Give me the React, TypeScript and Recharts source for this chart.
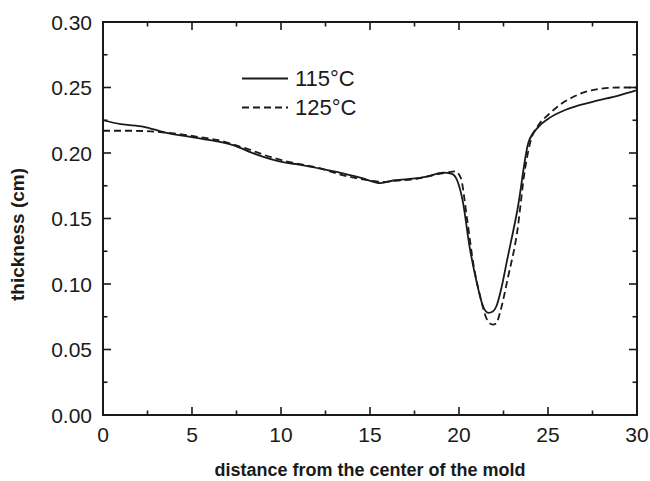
import React from "react";
import { LineChart, Line, XAxis, YAxis, Legend, ReferenceArea } from "recharts";

// 115°C (solid)
const x115 = [0, 1, 2.3, 3.4, 5.5, 7.3, 8.6, 10.1, 11.1, 12.6, 13.3, 14.5, 15.6, 16.3, 17.1, 18.2, 19.1, 19.6, 19.9, 20.2, 20.6, 21.0, 21.35, 21.65, 21.9, 22.1, 22.4, 22.7, 23.3, 23.9, 24.4, 25.0, 26.0, 27.5, 29.0, 30];
const y115 = [0.225, 0.222, 0.220, 0.216, 0.211, 0.206, 0.199, 0.193, 0.191, 0.187, 0.185, 0.181, 0.177, 0.179, 0.180, 0.182, 0.185, 0.184, 0.179, 0.164, 0.128, 0.101, 0.083, 0.078, 0.079, 0.083, 0.098, 0.118, 0.158, 0.208, 0.219, 0.226, 0.233, 0.239, 0.244, 0.248];

// 125°C (dashed)
const x125 = [0, 1.5, 3.2, 4.5, 5.5, 6.4, 7.9, 9.4, 10.5, 12, 13.5, 15, 15.7, 16.5, 17.5, 18.5, 19.3, 19.8, 20.1, 20.45, 20.8, 21.2, 21.57, 21.9, 22.1, 22.3, 22.75, 23.26, 23.7, 24.0, 24.5, 25.0, 25.6, 26.3, 27.5, 29, 30];
const y125 = [0.217, 0.217, 0.216, 0.214, 0.212, 0.210, 0.204, 0.197, 0.193, 0.189, 0.183, 0.179, 0.178, 0.179, 0.180, 0.183, 0.185, 0.186, 0.181, 0.150, 0.116, 0.090, 0.073, 0.069, 0.070, 0.078, 0.105, 0.139, 0.187, 0.208, 0.222, 0.229, 0.236, 0.242, 0.248, 0.250, 0.250];

const xTicks = [0, 2.5, 5, 7.5, 10, 12.5, 15, 17.5, 20, 22.5, 25, 27.5, 30];
const yTicks = [0, 0.025, 0.05, 0.075, 0.1, 0.125, 0.15, 0.175, 0.2, 0.225, 0.25, 0.275, 0.3];

const data115 = x115.map((x, i) => ({ x, y: y115[i] }));
const data125 = x125.map((x, i) => ({ x, y: y125[i] }));

const W = 650;
const H = 481;
const MARGIN = { top: 22, right: 13, bottom: 0, left: 0 };
const PLOT_TOP = MARGIN.top;
const PLOT_RIGHT = W - MARGIN.right;

const INK = "#1a1a1a";
const FONT = "'Liberation Sans', Arial, sans-serif";
const MAJOR = 8;
const MINOR = 4.5;

const isMajorX = (v: number) => v % 5 === 0;
const isMajorY = (v: number) => Math.round(v * 1000) % 50 === 0;

// bottom ticks point inward; the same tick is mirrored on the top frame edge
function BottomTick({ x, y, payload }: any) {
  const major = isMajorX(payload.value);
  const len = major ? MAJOR : MINOR;
  const base = y - 12;
  return (
    <g>
      <line x1={x} x2={x} y1={base} y2={base - len} stroke={INK} strokeWidth={1.6} />
      <line x1={x} x2={x} y1={PLOT_TOP} y2={PLOT_TOP + len} stroke={INK} strokeWidth={1.6} />
      {major && (
        <text x={x} y={y} dy="0.72em" textAnchor="middle" fontFamily={FONT} fontSize={21} fill={INK}>
          {payload.value}
        </text>
      )}
    </g>
  );
}

// left ticks point inward; mirrored on the right frame edge
function LeftTick({ x, y, payload }: any) {
  const major = isMajorY(payload.value);
  const len = major ? MAJOR : MINOR;
  const base = x + 11;
  return (
    <g>
      <line x1={base} x2={base + len} y1={y} y2={y} stroke={INK} strokeWidth={1.6} />
      <line x1={PLOT_RIGHT} x2={PLOT_RIGHT - len} y1={y} y2={y} stroke={INK} strokeWidth={1.6} />
      {major && (
        <text x={x} y={y} dy="0.36em" textAnchor="end" fontFamily={FONT} fontSize={21} fill={INK}>
          {payload.value.toFixed(2)}
        </text>
      )}
    </g>
  );
}

function LegendBox() {
  const rows = [
    { label: "115°C", dash: undefined },
    { label: "125°C", dash: "7 4" },
  ];
  return (
    <div>
      {rows.map((r) => (
        <div key={r.label} style={{ display: "flex", alignItems: "center", height: 29 }}>
          <svg width={46} height={29}>
            <line x1={0} x2={46} y1={14.5} y2={14.5} stroke={INK} strokeWidth={1.8} strokeDasharray={r.dash} />
          </svg>
          <span style={{ marginLeft: 7, fontFamily: FONT, fontSize: 22, color: INK }}>{r.label}</span>
        </div>
      ))}
    </div>
  );
}

export default function App() {
  return (
    <div style={{ position: "absolute", left: 0, top: 0, width: W, height: H, background: "#fff" }}>
      <LineChart width={W} height={H} margin={MARGIN}>
        <XAxis
          dataKey="x"
          type="number"
          domain={[0, 30]}
          ticks={xTicks}
          interval={0}
          height={66}
          tickSize={0}
          tickMargin={12}
          tick={<BottomTick />}
          axisLine={{ stroke: INK, strokeWidth: 2 }}
          label={{
            content: ({ viewBox }: any) => (
              <text
                x={viewBox.x + viewBox.width / 2}
                y={viewBox.y + viewBox.height - 5}
                textAnchor="middle"
                fontFamily={FONT}
                fontWeight="bold"
                fontSize={18}
                fill={INK}
              >
                distance from the center of the mold
              </text>
            ),
          }}
        />
        <YAxis
          type="number"
          domain={[0, 0.3]}
          ticks={yTicks}
          interval={0}
          width={103}
          tickSize={0}
          tickMargin={11}
          tick={<LeftTick />}
          axisLine={{ stroke: INK, strokeWidth: 2 }}
          label={{
            content: ({ viewBox }: any) => {
              const cx = viewBox.x + 17;
              const cy = viewBox.y + viewBox.height / 2 + 16;
              return (
                <text
                  x={cx}
                  y={cy}
                  transform={`rotate(-90, ${cx}, ${cy})`}
                  textAnchor="middle"
                  dominantBaseline="central"
                  fontFamily={FONT}
                  fontWeight="bold"
                  fontSize={19}
                  fill={INK}
                >
                  thickness (cm)
                </text>
              );
            },
          }}
        />
        {/* plot frame */}
        <ReferenceArea x1={0} x2={30} y1={0} y2={0.3} fill="#ffffff" fillOpacity={0} stroke={INK} strokeWidth={2} />
        <Legend
          layout="vertical"
          align="center"
          verticalAlign="middle"
          content={<LegendBox />}
          wrapperStyle={{ position: "absolute", left: 242, top: 64, width: 130, height: 58 }}
        />
        <Line
          data={data115}
          dataKey="y"
          type="monotone"
          stroke={INK}
          strokeWidth={1.8}
          dot={false}
          isAnimationActive={false}
          legendType="none"
        />
        <Line
          data={data125}
          dataKey="y"
          type="monotone"
          stroke={INK}
          strokeWidth={1.8}
          strokeDasharray="7 4"
          dot={false}
          isAnimationActive={false}
          legendType="none"
        />
      </LineChart>
    </div>
  );
}
